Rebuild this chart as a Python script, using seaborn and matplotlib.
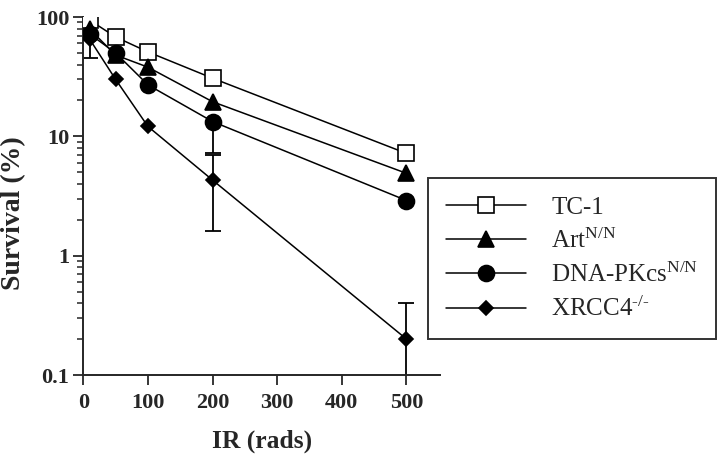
import matplotlib
matplotlib.use("Agg")
import matplotlib.pyplot as plt
import numpy as np
import pandas as pd
import seaborn as sns

# Dose (rads) and survival (%).
doses = [10, 50, 100, 200, 500]
tc1 = [94, 68, 51, 30.7, 7.2]
art = [79, 48, 38, 19.5, 4.9]
dnapk = [72, 50, 27, 13.3, 2.9]
xrcc4 = [65, 30, 12.1, 4.3, 0.2]

# Visible error bars: dose, value, lower err, upper err
err_x = [10, 200, 200, 500]
err_y = [65, 13.3, 4.3, 0.2]
err_lo = [20, 6.1, 2.7, 0.1999]
err_hi = [0, 0, 2.7, 0.2]

labels = ["TC-1", r"Art$^{\mathrm{N/N}}$", r"DNA-PKcs$^{\mathrm{N/N}}$",
          "XRCC4$^{\\mathrm{\u2010/\u2010}}$"]

df = pd.DataFrame({
    "dose": doses * 4,
    "survival": tc1 + art + dnapk + xrcc4,
    "line": np.repeat(labels, len(doses)),
})

sns.set_style("ticks")
plt.rcParams["font.family"] = ["Liberation Serif", "DejaVu Serif"]
plt.rcParams["mathtext.fontset"] = "custom"
plt.rcParams["mathtext.rm"] = "Liberation Serif"
plt.rcParams["mathtext.it"] = "Liberation Serif"

fig = plt.figure(figsize=(7.2, 4.55), dpi=100)
ax = fig.add_axes([0.1157, 0.1758, 0.4955, 0.7868])

styles = {
    labels[0]: dict(marker="s", markersize=11.5, markerfacecolor="white"),
    labels[1]: dict(marker="^", markersize=11, markerfacecolor="black"),
    labels[2]: dict(marker="o", markersize=11.5, markerfacecolor="black"),
    labels[3]: dict(marker="D", markersize=7, markerfacecolor="black"),
}

ax.errorbar(err_x, err_y, yerr=[err_lo, err_hi], fmt="none", ecolor="black",
            elinewidth=1.3, capsize=6, capthick=1.3, zorder=1)

for lab in labels:
    sub = df[df["line"] == lab]
    sns.lineplot(data=sub, x="dose", y="survival", ax=ax, color="black",
                 linewidth=1.1, markeredgecolor="black", markeredgewidth=1.2,
                 label=lab, zorder=3, **styles[lab])

ax.set_yscale("log")
ax.set_ylim(0.1, 100)
ax.set_xlim(0, 552)
ax.set_xticks([0, 100, 200, 300, 400, 500])
ax.set_yticks([0.1, 1, 10, 100])
ax.set_yticklabels(["0.1", "1", "10", "100"])

for s in ["top", "right"]:
    ax.spines[s].set_visible(False)
for s in ["left", "bottom"]:
    ax.spines[s].set_linewidth(1.4)
ax.tick_params(axis="both", which="major", length=7, width=1.3,
               labelsize=16, direction="out", pad=3)
ax.tick_params(axis="x", which="major", pad=6)
ax.tick_params(axis="y", which="minor", length=4, width=1.1)
for t in ax.get_xticklabels() + ax.get_yticklabels():
    t.set_fontweight("bold")

ax.set_xlabel("IR (rads)", fontsize=18.4, fontweight="bold", labelpad=12)
ax.set_ylabel("Survival (%)", fontsize=20, fontweight="bold")
ax.yaxis.set_label_coords(-0.1606, 0.4525)

leg = ax.legend(loc="upper left", bbox_to_anchor=(428 / 720, 1 - 178 / 455),
                bbox_transform=fig.transFigure, frameon=True,
                fancybox=False, edgecolor="black", fontsize=18,
                handlelength=3.2, handletextpad=1.0, borderpad=0.72,
                labelspacing=0.4, borderaxespad=0)
leg.get_frame().set_linewidth(1.4)

fig.savefig("out.png", dpi=100)
